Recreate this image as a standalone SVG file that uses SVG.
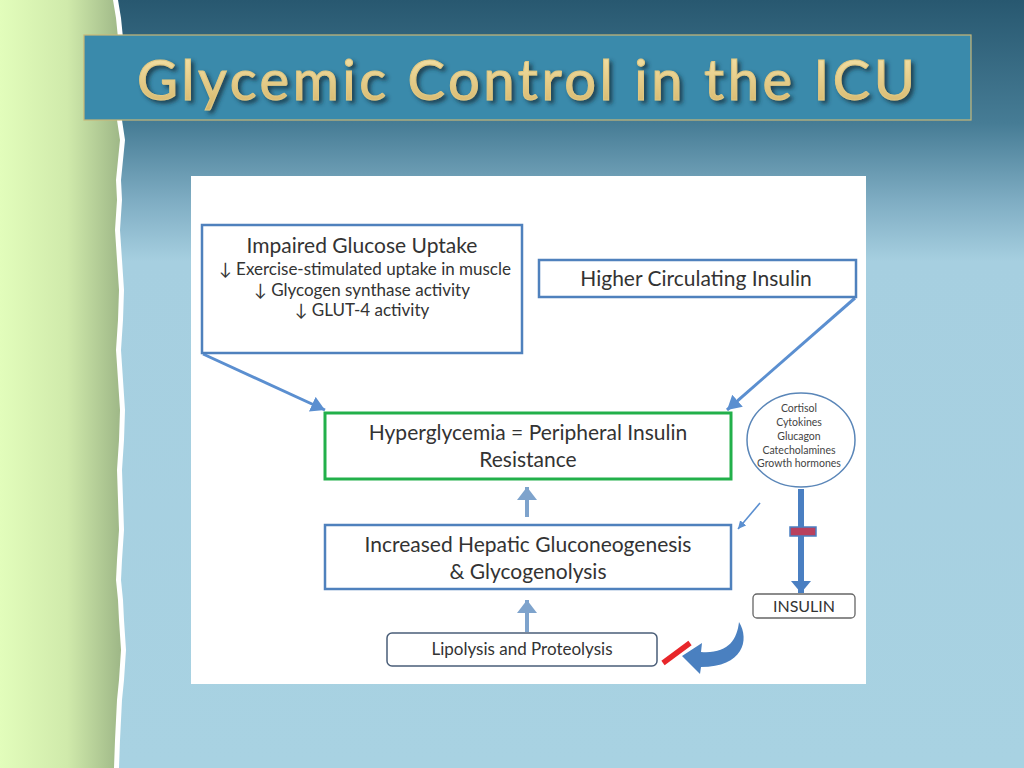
<svg xmlns="http://www.w3.org/2000/svg" width="1024" height="768" viewBox="0 0 1024 768">
<defs>
<linearGradient id="bgBlue" x1="0" y1="0" x2="0" y2="1">
<stop offset="0" stop-color="#285870"/>
<stop offset="0.16" stop-color="#467c95"/>
<stop offset="0.26" stop-color="#7eacc2"/>
<stop offset="0.34" stop-color="#a6cfe0"/>
<stop offset="1" stop-color="#a8d2e2"/>
</linearGradient>
<linearGradient id="bgGreen" x1="0" y1="0" x2="1" y2="0">
<stop offset="0" stop-color="#e2fdbb"/>
<stop offset="0.55" stop-color="#d0eaab"/>
<stop offset="1" stop-color="#9db686"/>
</linearGradient>
<linearGradient id="gold" x1="0" y1="0" x2="0" y2="1">
<stop offset="0" stop-color="#f8e8b0"/>
<stop offset="1" stop-color="#d4b468"/>
</linearGradient>
<filter id="shadow" x="-5%" y="-20%" width="110%" height="150%">
<feDropShadow dx="3" dy="3" stdDeviation="2" flood-color="#13303f" flood-opacity="0.85"/>
</filter>
<marker id="hBlue" markerUnits="userSpaceOnUse" markerWidth="20" markerHeight="20" refX="14" refY="8" orient="auto">
<path d="M0,0 L14,8 L0,16 Z" fill="#5b8fd0"/>
</marker>
<marker id="hLight" markerUnits="userSpaceOnUse" markerWidth="20" markerHeight="22" refX="13" refY="10" orient="auto">
<path d="M0,0 L13,10 L0,20 Z" fill="#7ea3cc"/>
</marker>
<marker id="hThin" markerUnits="userSpaceOnUse" markerWidth="12" markerHeight="12" refX="8" refY="4" orient="auto">
<path d="M0,0 L8,4 L0,8 Z" fill="#5b8fd0"/>
</marker>
<marker id="hBig" markerUnits="userSpaceOnUse" markerWidth="16" markerHeight="24" refX="12" refY="10" orient="auto">
<path d="M0,0 L12,10 L0,20 Z" fill="#4a7fc2"/>
</marker>
<style>
.t{font-family:Lato,"Liberation Sans",sans-serif;fill:#333333;text-anchor:middle}
.h{font-size:21px}
.s{font-size:17px}
.e{font-size:10.5px;fill:#444}
.box{fill:#ffffff;stroke:#4f81bd;stroke-width:2.5}
.conn{fill:none;stroke:#5b8fd0;stroke-width:3}
</style>
</defs>

<!-- background -->
<rect x="0" y="0" width="1024" height="768" fill="url(#bgBlue)"/>
<rect x="0" y="0" width="122" height="768" fill="url(#bgGreen)"/>
<path d="M113,0 L116,18 L118,38 L120,58 L121,80 L119,100 L117,120 L120,140 L118,160 L116,180 L117,200 L115,230 L117,260 L119,290 L118,320 L116,350 L118,380 L120,410 L119,440 L117,470 L118,500 L119,530 L117,560 L116,580 L118,600 L119,620 L121,650 L119,680 L117,700 L116,720 L115,740 L114,768 L124,768 L125,740 L126,720 L127,700 L129,680 L131,650 L129,620 L128,600 L126,580 L127,560 L129,530 L128,500 L127,470 L129,440 L130,410 L128,380 L126,350 L128,320 L129,290 L127,260 L125,230 L127,200 L126,180 L128,160 L130,140 L127,120 L129,100 L131,80 L130,58 L128,38 L126,18 L123,0 Z" fill="#ffffff"/>
<path d="M118,0 L121,18 L123,38 L125,58 L126,80 L124,100 L122,120 L125,140 L123,160 L121,180 L122,200 L120,230 L122,260 L124,290 L123,320 L121,350 L123,380 L125,410 L124,440 L122,470 L123,500 L124,530 L122,560 L121,580 L123,600 L124,620 L126,650 L124,680 L122,700 L121,720 L120,740 L119,768 L1024,768 L1024,0 Z" fill="url(#bgBlue)"/>

<!-- title -->
<g id="title">
<rect x="84" y="35" width="887" height="85" fill="#3a8aab" stroke="#c8b878" stroke-width="1.2"/>
<text x="137" y="100" font-family="Lato,'Open Sans',sans-serif" font-size="56" fill="url(#gold)" stroke="#e2c982" stroke-width="1" filter="url(#shadow)" textLength="778" lengthAdjust="spacing">Glycemic Control in the ICU</text>
</g>

<!-- diagram panel -->
<rect x="191" y="176" width="675" height="508" fill="#ffffff"/>

<g id="connectors">
<path class="conn" d="M203,354 L325,410" marker-end="url(#hBlue)"/>
<path class="conn" d="M855,298 L727,410" marker-end="url(#hBlue)"/>
<path d="M527,517 L527,487" fill="none" stroke="#7ea3cc" stroke-width="4" marker-end="url(#hLight)"/>
<path d="M527,632 L527,600" fill="none" stroke="#7ea3cc" stroke-width="4" marker-end="url(#hLight)"/>
<path d="M760,503 L738,529" fill="none" stroke="#5b8fd0" stroke-width="1.6" marker-end="url(#hThin)"/>
<path d="M801,489 L801,593" fill="none" stroke="#4a7fc2" stroke-width="6" marker-end="url(#hBig)"/>
<rect x="790" y="527" width="26" height="9" fill="#b8405e" stroke="#4a7fc2" stroke-width="1.5"/>
<path d="M663,663 L690,643" stroke="#e8262a" stroke-width="5.5" fill="none"/>
<path d="M739,622 C750,640 743,667 701,667 L700,674 L682,656 L702,643 L701,652 C728,654 737,640 739,622 Z" fill="#4a80c0"/>
</g>

<g id="n-impaired">
<rect class="box" x="202" y="225" width="320" height="128"/>
<text class="t h" x="362" y="253">Impaired Glucose Uptake</text>
<text class="t s" x="365" y="275">↓ Exercise-stimulated uptake in muscle</text>
<text class="t s" x="362" y="296">↓ Glycogen synthase activity</text>
<text class="t s" x="362" y="316">↓ GLUT-4 activity</text>
</g>

<g id="n-insulin-high">
<rect class="box" x="539" y="260" width="317" height="37"/>
<text class="t h" x="696" y="286">Higher Circulating Insulin</text>
</g>

<g id="n-hyper">
<rect x="325" y="413" width="406" height="66" fill="#ffffff" stroke="#22b04a" stroke-width="3"/>
<text class="t h" x="528" y="440">Hyperglycemia = Peripheral Insulin</text>
<text class="t h" x="528" y="467">Resistance</text>
</g>

<g id="n-hepatic">
<rect class="box" x="325" y="525" width="406" height="64"/>
<text class="t h" x="528" y="552">Increased Hepatic Gluconeogenesis</text>
<text class="t h" x="528" y="579">&amp; Glycogenolysis</text>
</g>

<g id="n-lipo">
<rect x="387" y="633" width="270" height="33" rx="5" fill="#ffffff" stroke="#4a5e78" stroke-width="1.5"/>
<text class="t" x="522" y="655" font-size="17">Lipolysis and Proteolysis</text>
</g>

<g id="n-hormones">
<ellipse cx="801" cy="440" rx="54" ry="47" fill="#ffffff" stroke="#5a86b8" stroke-width="1.5"/>
<text class="t e" x="799" y="412">Cortisol</text>
<text class="t e" x="799" y="426">Cytokines</text>
<text class="t e" x="799" y="440">Glucagon</text>
<text class="t e" x="799" y="454">Catecholamines</text>
<text class="t e" x="799" y="467">Growth hormones</text>
</g>

<g id="n-insulin">
<rect x="753" y="594" width="102" height="24" rx="4" fill="#ffffff" stroke="#666666" stroke-width="1.3"/>
<text class="t" x="804" y="612" font-size="16">INSULIN</text>
</g>
</svg>
